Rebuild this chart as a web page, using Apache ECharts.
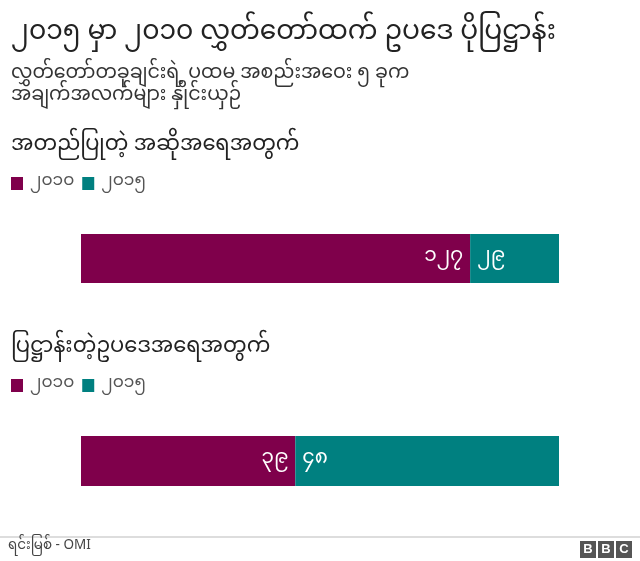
<!DOCTYPE html>
<html>
<head>
<meta charset="utf-8">
<script src="https://cdn.jsdelivr.net/npm/echarts@6/dist/echarts.min.js"></script>
<style>
html,body{margin:0;padding:0;background:#fff;}
#c{width:640px;height:561px;}
</style>
</head>
<body>
<div id="c"></div>
<script>
// ---- data ----
const seriesNames = ['၂၀၁၀', '၂၀၁၅'];
const panelTitles = ['အတည်ပြုတဲ့ အဆိုအရေအတွက်', 'ပြဋ္ဌာန်းတဲ့ဥပဒေအရေအတွက်'];
const motions = [127, 29];   // 2010, 2015
const laws = [39, 48];       // 2010, 2015
const colors = ['#7f004b', '#008080'];

const titleText = '၂၀၁၅ မှာ ၂၀၁၀ လွှတ်တော်ထက် ဥပဒေ ပိုပြဋ္ဌာန်း';
const subText1 = 'လွှတ်တော်တခုချင်းရဲ့ ပထမ အစည်းအဝေး ၅ ခုက';
const subText2 = 'အချက်အလက်များ နှိုင်းယှဉ်';
const sourceText = 'ရင်းမြစ် - OMI';

const FONT = '"Noto Sans Myanmar","Padauk","Myanmar Text","Noto Sans",sans-serif';
const myDigits = '၀၁၂၃၄၅၆၇၈၉';
function toMy(n){ return String(n).replace(/[0-9]/g, d => myDigits[+d]); }

const panels = [motions, laws];
const gridTops = [234, 436];
const barH = [49, 50];

const chart = echarts.init(document.getElementById('c'), null, {renderer:'canvas'});

const grids = [], xAxes = [], yAxes = [], series = [], legends = [];
panels.forEach((vals, p) => {
  const total = vals.reduce((a,b)=>a+b,0);
  grids.push({left:81, right:81, top:gridTops[p], height:barH[p], containLabel:false});
  xAxes.push({gridIndex:p, type:'value', min:0, max:100, show:false});
  yAxes.push({gridIndex:p, type:'category', data:[''], show:false});
  vals.forEach((v, i) => {
    series.push({
      type:'bar', name:seriesNames[i], stack:'s'+p,
      xAxisIndex:p, yAxisIndex:p, barWidth:'100%',
      itemStyle:{color:colors[i]},
      label:{show:true, position: i===0 ? 'insideRight' : 'insideLeft',
             color:'#fff', fontSize:20, fontFamily:FONT, distance:7,
             formatter: () => toMy(v)},
      data:[v/total*100],
      silent:true
    });
  });
  legends.push({
    top: p===0 ? 170 : 372, left:6, itemWidth:12, itemHeight:13, itemGap:8,
    icon:'rect', selectedMode:false,
    textStyle:{color:'#555', fontSize:17, fontFamily:FONT, padding:[0,0,0,2]},
    data:seriesNames.slice()
  });
});

chart.setOption({
  animation:false,
  title:[
    {text:titleText, left:6, top:18, textStyle:{fontSize:26.5, fontWeight:'normal', color:'#222', fontFamily:FONT}},
    {text:subText1, left:6, top:61, textStyle:{fontSize:19, fontWeight:'normal', color:'#333', fontFamily:FONT}},
    {text:subText2, left:6, top:83, textStyle:{fontSize:19, fontWeight:'normal', color:'#333', fontFamily:FONT}},
    {text:panelTitles[0], left:6, top:132, textStyle:{fontSize:21, fontWeight:'normal', color:'#222', fontFamily:FONT}},
    {text:panelTitles[1], left:6, top:334, textStyle:{fontSize:21, fontWeight:'normal', color:'#222', fontFamily:FONT}}
  ],
  legend:legends,
  grid:grids, xAxis:xAxes, yAxis:yAxes, series:series,
  graphic:[
    {type:'line', shape:{x1:0,y1:537,x2:640,y2:537}, style:{stroke:'#bbb', lineWidth:1}},
    {type:'text', left:8, top:541, style:{text:sourceText, fill:'#444', fontSize:13.5, fontFamily:FONT}},
    {type:'group', left:580, top:541, children:[
      {type:'rect', shape:{x:0,y:0,width:16,height:17}, style:{fill:'#555'}},
      {type:'rect', shape:{x:18,y:0,width:16,height:17}, style:{fill:'#555'}},
      {type:'rect', shape:{x:36,y:0,width:16,height:17}, style:{fill:'#555'}},
      {type:'text', x:8, y:8.5, style:{text:'B', fill:'#fff', fontSize:13, fontWeight:'bold', fontFamily:'Arial,sans-serif', align:'center', verticalAlign:'middle'}},
      {type:'text', x:26, y:8.5, style:{text:'B', fill:'#fff', fontSize:13, fontWeight:'bold', fontFamily:'Arial,sans-serif', align:'center', verticalAlign:'middle'}},
      {type:'text', x:44, y:8.5, style:{text:'C', fill:'#fff', fontSize:13, fontWeight:'bold', fontFamily:'Arial,sans-serif', align:'center', verticalAlign:'middle'}}
    ]}
  ]
});
</script>
</body>
</html>
